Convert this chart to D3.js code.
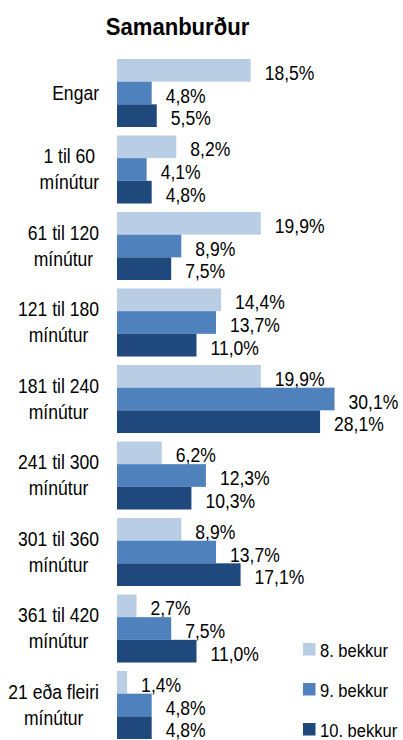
<!DOCTYPE html>
<html><head><meta charset="utf-8">
<script src="https://cdn.jsdelivr.net/npm/d3@7"></script>
<style>
html,body{margin:0;padding:0;background:#fff;}
text{font-family:"Liberation Sans",Arial,sans-serif;fill:#000;}
</style></head>
<body>
<svg id="chart" width="403" height="740"></svg>
<script>
const categories = [["Engar"],["1 til 60","mínútur"],["61 til 120","mínútur"],["121 til 180","mínútur"],["181 til 240","mínútur"],["241 til 300","mínútur"],["301 til 360","mínútur"],["361 til 420","mínútur"],["21 eða fleiri","mínútur"]];
const seriesNames = ["8. bekkur","9. bekkur","10. bekkur"];
const s8 = [18.5, 8.2, 19.9, 14.4, 19.9, 6.2, 8.9, 2.7, 1.4];
const s9 = [4.8, 4.1, 8.9, 13.7, 30.1, 12.3, 13.7, 7.5, 4.8];
const s10 = [5.5, 4.8, 7.5, 11.0, 28.1, 10.3, 17.1, 11.0, 4.8];
const colors = ["#B9CDE5","#4F81BD","#1F497D"];

const series = [s8, s9, s10];
const svg = d3.select("#chart");
const SX = 0.9;

svg.append("text").attr("transform","translate(177.5,35) scale(0.96,1)").attr("text-anchor","middle")
  .style("font-size","23px").style("font-weight","bold").text("Samanburður");

const y = d3.scaleBand().domain(d3.range(categories.length)).range([59,739]).paddingInner(8.5/76.5).paddingOuter(0);
const yi = d3.scaleBand().domain(d3.range(3)).range([0,y.bandwidth()]);
const x = d3.scaleLinear().domain([0,35]).range([117,117+35*7.227]);
const fmt = v => d3.format(".1f")(v).replace(".",",") + "%";

const groups = svg.selectAll("g.grp").data(categories).join("g").attr("class","grp")
  .attr("transform",(d,i)=>`translate(0,${y(i)})`);

series.forEach((vals,si)=>{
  groups.append("rect")
    .attr("x",x(0)).attr("y",yi(si)).attr("height",yi.bandwidth())
    .attr("width",(d,i)=>x(vals[i])-x(0)).attr("fill",colors[si]);
  groups.append("text")
    .attr("transform",(d,i)=>`translate(${x(vals[i])+14},${yi(si)+yi.bandwidth()/2+9.5}) scale(${SX},1)`)
    .style("font-size","19.5px").text((d,i)=>fmt(vals[i]));
});

// category labels: block right-aligned at 99, lines centered
groups.each(function(lines,i){
  const g = d3.select(this);
  const c = y.bandwidth()/2;
  const ts = lines.map((l,k)=>g.append("text").style("font-size","19.5px").attr("text-anchor","middle").text(l));
  const w = d3.max(ts, t=>t.node().getComputedTextLength()) * SX;
  const cx = 99 - w/2;
  ts.forEach((t,k)=>{
    let by = lines.length===1 ? c+7 : (k===0 ? c-6.5 : c+19.5);
    t.attr("transform",`translate(${cx},${by}) scale(${SX},1)`);
  });
});

// legend
const legY = [643, 683, 723];
const leg = svg.selectAll("g.leg").data(seriesNames).join("g").attr("class","leg")
  .attr("transform",(d,i)=>`translate(303,${legY[i]})`);
leg.append("rect").attr("width",12.5).attr("height",12.5).attr("fill",(d,i)=>colors[i]);
leg.append("text").attr("transform","translate(17,14) scale(0.87,1)").style("font-size","19px").text(d=>d);
</script>
</body></html>
